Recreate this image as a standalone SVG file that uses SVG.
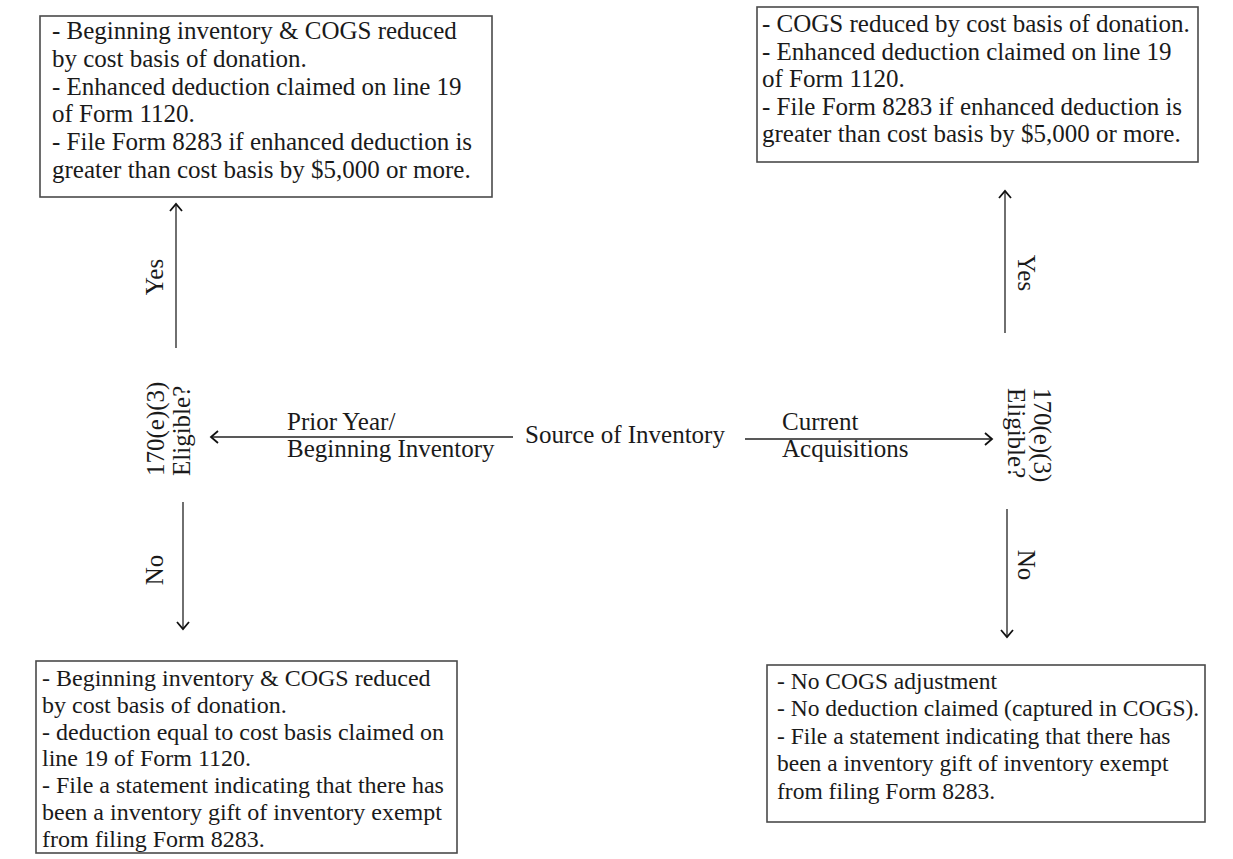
<svg xmlns="http://www.w3.org/2000/svg" width="1233" height="859" viewBox="0 0 1233 859">
<style>
.box{fill:#fff;stroke:#4a4a4a;stroke-width:1.6}
.t{font-family:"Liberation Serif","Times New Roman",serif;font-size:25px;fill:#1a1a1a}
.s{font-family:"Liberation Serif","Times New Roman",serif;font-size:24px;fill:#1a1a1a}
.r{font-family:"Liberation Serif","Times New Roman",serif;font-size:23.5px;fill:#1a1a1a}
.c{stroke:#222;stroke-width:1.3;fill:none}
</style>
<defs>
<marker id="ah" markerUnits="userSpaceOnUse" markerWidth="16" markerHeight="16" viewBox="-10 -8 12 16" refX="0" refY="0" orient="auto">
<path d="M-7,-6 L0,0 L-7,6" fill="none" stroke="#111" stroke-width="1.8"/>
</marker>
</defs>
<rect width="1233" height="859" fill="#fff"/>
<g id="connectors">
<line class="c" x1="176" y1="348" x2="176" y2="204" marker-end="url(#ah)"/>
<line class="c" x1="183" y1="502" x2="183" y2="629" marker-end="url(#ah)"/>
<line class="c" x1="1005" y1="333" x2="1005" y2="191" marker-end="url(#ah)"/>
<line class="c" x1="1007" y1="509" x2="1007" y2="637" marker-end="url(#ah)"/>
<line class="c" x1="513" y1="437" x2="211" y2="437" marker-end="url(#ah)"/>
<line class="c" x1="745" y1="439" x2="992" y2="439" marker-end="url(#ah)"/>
<text class="t" transform="translate(163,277) rotate(-90)" text-anchor="middle">Yes</text>
<text class="t" transform="translate(163,570) rotate(-90)" text-anchor="middle">No</text>
<text class="t" transform="translate(1018,273) rotate(90)" text-anchor="middle">Yes</text>
<text class="t" transform="translate(1018,565) rotate(90)" text-anchor="middle">No</text>
<text class="t" x="287" y="430">Prior Year/</text>
<text class="t" x="287" y="457">Beginning Inventory</text>
<text class="t" x="782" y="430">Current</text>
<text class="t" x="782" y="457">Acquisitions</text>
</g>
<g id="source">
<text class="t" x="525" y="443">Source of Inventory</text>
</g>
<g id="eligible-left">
<text class="t" transform="translate(164,476) rotate(-90)"><tspan x="0" y="0">170(e)(3)</tspan><tspan x="0" y="26">Eligible?</tspan></text>
</g>
<g id="eligible-right">
<text class="t" transform="translate(1034,388) rotate(90)"><tspan x="0" y="0">170(e)(3)</tspan><tspan x="0" y="26">Eligible?</tspan></text>
</g>
<g id="yes-left">
<rect class="box" x="40" y="16" width="452" height="181"/>
<text class="t"><tspan x="52" y="39">- Beginning inventory &amp; COGS reduced</tspan><tspan x="52" y="66.8">by cost basis of donation.</tspan><tspan x="52" y="94.6">- Enhanced deduction claimed on line 19</tspan><tspan x="52" y="122.4">of Form 1120.</tspan><tspan x="52" y="150.2">- File Form 8283 if enhanced deduction is</tspan><tspan x="52" y="178">greater than cost basis by $5,000 or more.</tspan></text>
</g>
<g id="yes-right">
<rect class="box" x="757" y="7" width="441" height="155"/>
<text class="t"><tspan x="762" y="32">- COGS reduced by cost basis of donation.</tspan><tspan x="762" y="59.6">- Enhanced deduction claimed on line 19</tspan><tspan x="762" y="87.2">of Form 1120.</tspan><tspan x="762" y="114.8">- File Form 8283 if enhanced deduction is</tspan><tspan x="762" y="142.4">greater than cost basis by $5,000 or more.</tspan></text>
</g>
<g id="no-left">
<rect class="box" x="36" y="661" width="421" height="192"/>
<text class="s"><tspan x="42" y="686">- Beginning inventory &amp; COGS reduced</tspan><tspan x="42" y="712.8">by cost basis of donation.</tspan><tspan x="42" y="739.6">- deduction equal to cost basis claimed on</tspan><tspan x="42" y="766.4">line 19 of Form 1120.</tspan><tspan x="42" y="793.2">- File a statement indicating that there has</tspan><tspan x="42" y="820">been a inventory gift of inventory exempt</tspan><tspan x="42" y="846.8">from filing Form 8283.</tspan></text>
</g>
<g id="no-right">
<rect class="box" x="767" y="665" width="438" height="157"/>
<text class="r"><tspan x="777" y="689">- No COGS adjustment</tspan><tspan x="777" y="716.4">- No deduction claimed (captured in COGS).</tspan><tspan x="777" y="743.8">- File a statement indicating that there has</tspan><tspan x="777" y="771.2">been a inventory gift of inventory exempt</tspan><tspan x="777" y="798.6">from filing Form 8283.</tspan></text>
</g>
</svg>
